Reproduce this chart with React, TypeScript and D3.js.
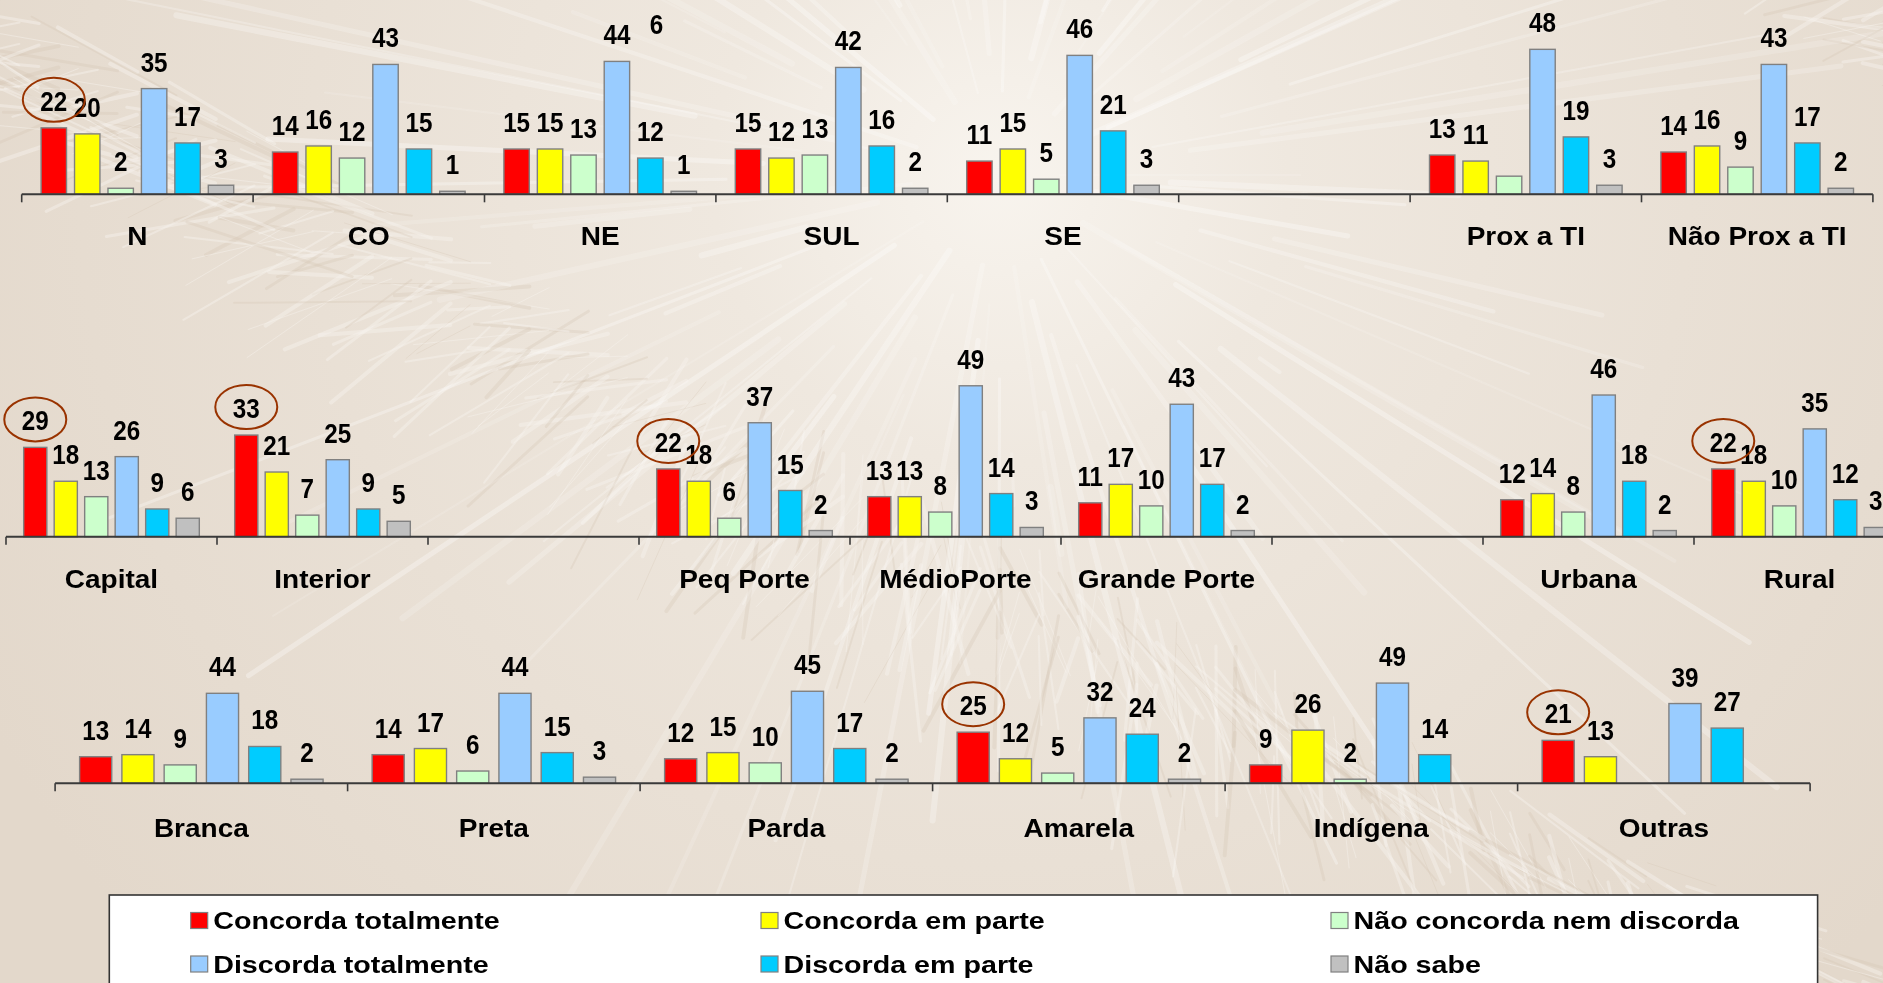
import React, { useEffect } from 'react';
import * as d3 from 'd3';

// ---------- data ----------
const seriesNames = [
  'Concorda totalmente',
  'Concorda em parte',
  'Não concorda nem discorda',
  'Discorda totalmente',
  'Discorda em parte',
  'Não sabe',
];
const seriesColors = ['#FF0000', '#FFFF00', '#CCFFCC', '#99CCFF', '#00CCFF', '#C0C0C0'];

const row1Categories = ['N', 'CO', 'NE', 'SUL', 'SE', '', 'Prox a TI', 'Não Prox a TI'];
const row1Values: (number | null)[][] = [
  [22, 20, 2, 35, 17, 3],
  [14, 16, 12, 43, 15, 1],
  [15, 15, 13, 44, 12, 1],
  [15, 12, 13, 42, 16, 2],
  [11, 15, 5, 46, 21, 3],
  [null, null, null, null, null, null],
  [13, 11, 6, 48, 19, 3],
  [14, 16, 9, 43, 17, 2],
];

const row2Categories = ['Capital', 'Interior', '', 'Peq Porte', 'MédioPorte', 'Grande Porte', '', 'Urbana', 'Rural'];
const row2Values: (number | null)[][] = [
  [29, 18, 13, 26, 9, 6],
  [33, 21, 7, 25, 9, 5],
  [null, null, null, null, null, null],
  [22, 18, 6, 37, 15, 2],
  [13, 13, 8, 49, 14, 3],
  [11, 17, 10, 43, 17, 2],
  [null, null, null, null, null, null],
  [12, 14, 8, 46, 18, 2],
  [22, 18, 10, 35, 12, 3],
];

const row3Categories = ['Branca', 'Preta', 'Parda', 'Amarela', 'Indígena', 'Outras'];
const row3Values: (number | null)[][] = [
  [13, 14, 9, 44, 18, 2],
  [14, 17, 6, 44, 15, 3],
  [12, 15, 10, 45, 17, 2],
  [25, 12, 5, 32, 24, 2],
  [9, 26, 2, 49, 14, null],
  [21, 13, null, 39, 27, null],
];

// [row, category index, series index]
const circledLabels: [number, number, number][] = [
  [0, 0, 0],
  [1, 0, 0],
  [1, 1, 0],
  [1, 3, 0],
  [1, 8, 0],
  [2, 3, 0],
  [2, 5, 0],
];
const unlabeledBars: [number, number, number][] = [[0, 6, 2]];
// stray text left in the original slide: [row, category index, series index, value height, text]
const strayLabels: [number, number, number, number, string][] = [[0, 2, 4, 47.5, '6']];

// ---------- layout ----------
const W = 1883;
const H = 983;
const FONT = "'Liberation Sans', Arial, Helvetica, sans-serif";

const rowLayouts = [
  { x0: 21.7, groupW: 231.4, baseline: 194.3, ppu: 3.02, labelDy: 51 },
  { x0: 6, groupW: 211, baseline: 536.7, ppu: 3.08, labelDy: 51.6 },
  { x0: 55.1, groupW: 292.5, baseline: 783.3, ppu: 2.045, labelDy: 53.4 },
];
const rows = [
  { categories: row1Categories, values: row1Values },
  { categories: row2Categories, values: row2Values },
  { categories: row3Categories, values: row3Values },
];

function Background() {
  const cx = 1000;
  const cy = 175;
  const n = 120;
  const rays = d3.range(n).map((i) => {
    const a = ((i * 360) / n + 7 * Math.sin(i * 1.7)) * (Math.PI / 180);
    const r0 = 60 + ((i * 37) % 260);
    const r1 = 300 + ((i * 53) % 700);
    return {
      x1: cx + r0 * Math.cos(a),
      y1: cy + r0 * Math.sin(a),
      x2: cx + r1 * Math.cos(a),
      y2: cy + r1 * Math.sin(a),
      w: 2 + ((i * 13) % 5),
      o: 0.12 + (0.22 * ((i * 29) % 10)) / 10,
    };
  });
  // straw texture: short oblique strokes
  const straws = d3.range(420).map((i) => {
    const px = (i * 137.3) % W;
    const py = (i * 71.9) % H;
    const dx = px - cx;
    const dy = py - cy;
    const base = Math.atan2(dy, dx) + 0.5 * Math.sin(i * 0.9);
    const len = 60 + ((i * 31) % 120);
    return {
      x1: px,
      y1: py,
      x2: px + len * Math.cos(base),
      y2: py + len * Math.sin(base),
      light: i % 3 !== 0,
      w: 1 + ((i * 7) % 4),
    };
  });
  return (
    <g>
      <defs>
        <radialGradient id="bgGrad" cx={cx} cy={cy} r={1150} gradientUnits="userSpaceOnUse">
          <stop offset="0" stopColor="#F8F4EE" />
          <stop offset="0.25" stopColor="#EFE8DF" />
          <stop offset="0.6" stopColor="#E9E0D5" />
          <stop offset="1" stopColor="#E3D8CB" />
        </radialGradient>
      </defs>
      <rect x={0} y={0} width={W} height={H} fill="url(#bgGrad)" />
      {straws.map((d, i) => (
        <line
          key={'s' + i}
          x1={d.x1}
          y1={d.y1}
          x2={d.x2}
          y2={d.y2}
          stroke={d.light ? '#F7F3EE' : '#D5C6B4'}
          strokeWidth={d.w}
          opacity={d.light ? 0.45 : 0.3}
          strokeLinecap="round"
        />
      ))}
      {rays.map((d, i) => (
        <line key={'r' + i} x1={d.x1} y1={d.y1} x2={d.x2} y2={d.y2} stroke="#FFFFFF" strokeWidth={d.w} opacity={d.o} strokeLinecap="round" />
      ))}
    </g>
  );
}

function ChartRow({ rowIndex }: { rowIndex: number }) {
  const { categories, values } = rows[rowIndex];
  const L = rowLayouts[rowIndex];
  const idx = categories.map((_, i) => String(i));
  const x = d3
    .scaleBand<string>()
    .domain(idx)
    .range([L.x0, L.x0 + categories.length * L.groupW])
    .padding(0);
  const xi = d3
    .scaleBand<string>()
    .domain(seriesNames.map((_, i) => String(i)))
    .range([0, x.bandwidth()])
    .paddingInner(0.24)
    .paddingOuter(0.58);
  const y = d3.scaleLinear().domain([0, 50]).range([L.baseline, L.baseline - 50 * L.ppu]);
  const ticks = d3.range(categories.length + 1).map((k) => L.x0 + k * L.groupW);
  const axisEnd = L.x0 + categories.length * L.groupW;

  const isHidden = (c: number, s: number) =>
    unlabeledBars.some(([r, cc, ss]) => r === rowIndex && cc === c && ss === s);

  return (
    <g>
      {values.map((vals, c) =>
        vals.map((v, s) => {
          if (v === null) return null;
          const bx = (x(String(c)) as number) + (xi(String(s)) as number);
          return (
            <rect
              key={`b${c}-${s}`}
              x={bx}
              y={y(v)}
              width={xi.bandwidth()}
              height={L.baseline - y(v)}
              fill={seriesColors[s]}
              stroke="#808080"
              strokeWidth={1.4}
            />
          );
        })
      )}
      <line x1={L.x0} x2={axisEnd} y1={L.baseline} y2={L.baseline} stroke="#3A3A3A" strokeWidth={2} />
      {ticks.map((t, k) => (
        <line key={'t' + k} x1={t} x2={t} y1={L.baseline} y2={L.baseline + 8} stroke="#3A3A3A" strokeWidth={1.6} />
      ))}
      {values.map((vals, c) =>
        vals.map((v, s) => {
          if (v === null || isHidden(c, s)) return null;
          const cxv = (x(String(c)) as number) + (xi(String(s)) as number) + xi.bandwidth() / 2;
          return (
            <text
              key={`l${c}-${s}`}
              transform={`translate(${cxv},${y(v) - 17}) scale(0.95,1.05)`}
              textAnchor="middle"
              fontFamily={FONT}
              fontWeight="bold"
              fontSize={25.5}
              fill="#000"
            >
              {v}
            </text>
          );
        })
      )}
      {strayLabels
        .filter(([r]) => r === rowIndex)
        .map(([, c, s, h, t], i) => {
          const cxv = (x(String(c)) as number) + (xi(String(s)) as number) + xi.bandwidth() / 2;
          return (
            <text
              key={'s' + i}
              transform={`translate(${cxv + 6},${y(h) - 17}) scale(0.95,1.05)`}
              textAnchor="middle"
              fontFamily={FONT}
              fontWeight="bold"
              fontSize={25.5}
              fill="#000"
            >
              {t}
            </text>
          );
        })}
      {circledLabels
        .filter(([r]) => r === rowIndex)
        .map(([, c, s], i) => {
          const v = values[c][s] as number;
          const cxv = (x(String(c)) as number) + (xi(String(s)) as number) + xi.bandwidth() / 2;
          return (
            <ellipse
              key={'c' + i}
              cx={cxv}
              cy={y(v) - 17 - 11}
              rx={31}
              ry={22}
              fill="none"
              stroke="#993300"
              strokeWidth={2}
            />
          );
        })}
      {categories.map((name, c) => {
        if (!name) return null;
        const cx = (x(String(c)) as number) + x.bandwidth() / 2;
        return (
          <text
            key={'n' + c}
            transform={`translate(${cx},${L.baseline + L.labelDy}) scale(1.12,1)`}
            textAnchor="middle"
            fontFamily={FONT}
            fontWeight="bold"
            fontSize={25}
            fill="#000"
          >
            {name}
          </text>
        );
      })}
    </g>
  );
}

const legendCols = [190.7, 761, 1331];
const legendRows = [920.5, 964];

function Legend() {
  return (
    <g>
      <rect x={109.3} y={895} width={1708.3} height={140} fill="#FFFFFF" stroke="#333333" strokeWidth={1.6} />
      {seriesNames.map((name, i) => {
        const col = i % 3;
        const row = Math.floor(i / 3);
        const lx = legendCols[col];
        const ly = legendRows[row];
        return (
          <g key={name}>
            <rect x={lx} y={ly - 8} width={17} height={16} fill={seriesColors[i]} stroke="#808080" strokeWidth={1.2} />
            <text
              transform={`translate(${lx + 22.5},${ly + 8.8}) scale(1.17,1)`}
              fontFamily={FONT}
              fontWeight="bold"
              fontSize={24.5}
              fill="#000"
            >
              {name}
            </text>
          </g>
        );
      })}
    </g>
  );
}

export default function App() {
  useEffect(() => {
    document.body.style.margin = '0';
    document.body.style.overflow = 'hidden';
  }, []);
  return (
    <svg width={W} height={H} style={{ position: 'fixed', left: 0, top: 0, display: 'block' }}>
      <Background />
      <ChartRow rowIndex={0} />
      <ChartRow rowIndex={1} />
      <ChartRow rowIndex={2} />
      <Legend />
    </svg>
  );
}
